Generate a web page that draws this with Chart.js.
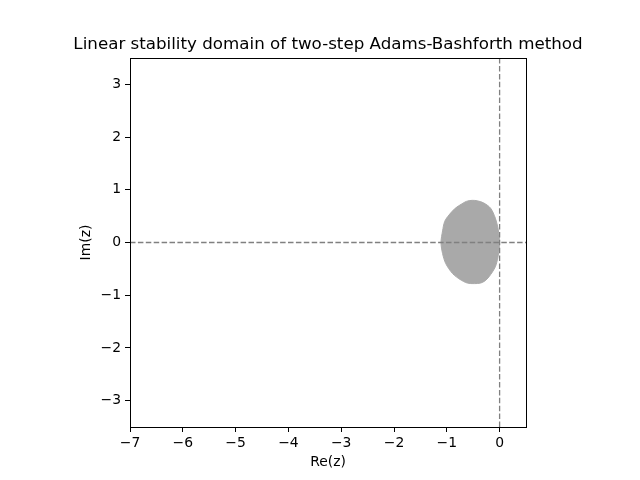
<!DOCTYPE html>
<html>
<head>
<meta charset="utf-8">
<script src="https://cdn.jsdelivr.net/npm/chart.js@4/dist/chart.umd.min.js"></script>
<style>
  html, body { margin: 0; padding: 0; background: #fff; }
  #wrap { width: 640px; height: 480px; }
</style>
</head>
<body>
<div id="wrap"><canvas id="stabChart" width="640" height="480"></canvas></div>
<script>
// Boundary of the shaded stability region (Re, Im)
const regionRe = [0, -0.01, -0.03, -0.08, -0.17, -0.30, -0.42, -0.52, -0.63, -0.72, -0.84, -0.96, -1.04, -1.08, -1.11,
                  -1.08, -1.02, -0.89, -0.75, -0.61, -0.48, -0.36, -0.28, -0.20, -0.08, -0.03, -0.01, 0];
const regionIm = [0, 0.12, 0.27, 0.46, 0.65, 0.75, 0.79, 0.80, 0.78, 0.73, 0.65, 0.52, 0.40, 0.22, 0,
                  -0.21, -0.40, -0.59, -0.70, -0.77, -0.78, -0.77, -0.73, -0.65, -0.46, -0.27, -0.12, 0];

const xTicks = [-7, -6, -5, -4, -3, -2, -1, 0];
const yTicks = [-3, -2, -1, 0, 1, 2, 3];
const xRange = [-7, 0.5];
const yRange = [-3.5, 3.5];

const titleText = 'Linear stability domain of two-step Adams-Bashforth method';
const FONT = 'DejaVu Sans';

Chart.defaults.color = '#000';
Chart.defaults.font.family = FONT;

const fmt = v => (v < 0 ? '\u2212' + Math.abs(v) : String(v));

// frame on top/right + the title text
const framePlugin = {
    id: 'frame',
    afterDraw(chart) {
        const {ctx, chartArea: a} = chart;
        ctx.save();
        ctx.strokeStyle = '#000';
        ctx.lineWidth = 1;
        ctx.strokeRect(Math.round(a.left) + 0.5, Math.round(a.top) + 0.5,
            Math.round(a.right - a.left), Math.round(a.bottom - a.top));
        ctx.fillStyle = '#000';
        ctx.font = '16.7px "' + FONT + '"';
        ctx.textAlign = 'center';
        ctx.textBaseline = 'alphabetic';
        ctx.fillText(titleText, (a.left + a.right) / 2, 49);
        ctx.restore();
    }
};

const region = regionRe.map((x, i) => ({x: x, y: regionIm[i]}));

const ctx = document.getElementById('stabChart').getContext('2d');
const chart = new Chart(ctx, {
    type: 'scatter',
    data: {
        datasets: [
            {
                // horizontal dashed line Im = 0
                data: [{x: xRange[0], y: 0}, {x: xRange[1], y: 0}],
                showLine: true,
                borderColor: '#808080',
                borderWidth: 1.3,
                borderDash: [5.5, 2.4],
                pointRadius: 0,
                order: 0
            },
            {
                // vertical dashed line Re = 0
                data: [{x: 0, y: yRange[0]}, {x: 0, y: yRange[1]}],
                showLine: true,
                borderColor: '#808080',
                borderWidth: 1.3,
                borderDash: [5.5, 2.4],
                pointRadius: 0,
                order: 1
            },
            {
                data: region,
                showLine: true,
                fill: 'shape',
                tension: 0.3,
                borderColor: '#a9a9a9',
                backgroundColor: '#a9a9a9',
                borderWidth: 1,
                pointRadius: 0,
                order: 2
            }
        ]
    },
    options: {
        responsive: false,
        animation: false,
        layout: { padding: { left: 0, right: 114, top: 58, bottom: 0 } },
        plugins: {
            legend: { display: false },
            tooltip: { enabled: false },
            title: { display: false }
        },
        scales: {
            x: {
                type: 'linear',
                min: xRange[0],
                max: xRange[1],
                afterBuildTicks: s => { s.ticks = xTicks.map(v => ({value: v})); },
                afterFit: s => { s.height = 53; },
                grid: { drawOnChartArea: false, drawTicks: true, tickLength: 5, color: '#000' },
                border: { display: true, color: '#000', width: 1 },
                ticks: { padding: 3, font: { size: 13.9 }, maxRotation: 0, callback: v => fmt(v) },
                title: { display: true, text: 'Re(z)', font: { size: 13.9 }, padding: { top: 0, bottom: 9 } }
            },
            y: {
                type: 'linear',
                min: yRange[0],
                max: yRange[1],
                afterBuildTicks: s => { s.ticks = yTicks.map(v => ({value: v})); },
                afterFit: s => { s.width = 130; },
                grid: { drawOnChartArea: false, drawTicks: true, tickLength: 5, color: '#000' },
                border: { display: true, color: '#000', width: 1 },
                ticks: { padding: 4, font: { size: 13.9 }, callback: v => fmt(v) },
                title: { display: true, text: 'Im(z)', font: { size: 13.9 }, padding: { top: 78, bottom: 0 } }
            }
        }
    },
    plugins: [framePlugin]
});
</script>
</body>
</html>
